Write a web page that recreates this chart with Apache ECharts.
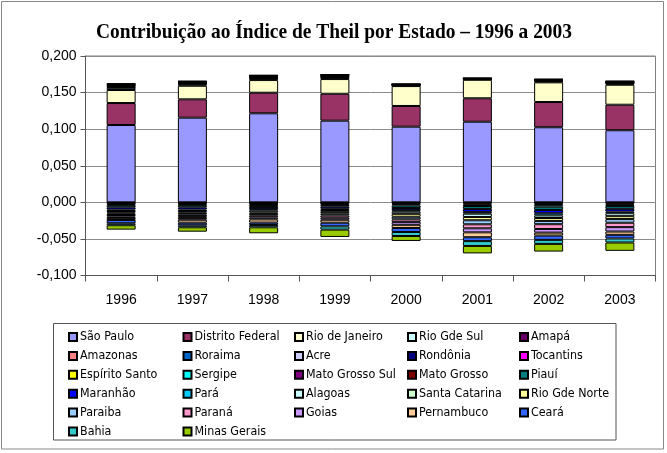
<!DOCTYPE html>
<html><head><meta charset="utf-8">
<script src="https://cdn.jsdelivr.net/npm/echarts@6/dist/echarts.min.js"></script>
<style>html,body{margin:0;padding:0;background:#fff}#c{width:667px;height:453px}</style>
</head><body><div id="c"></div><script>
// ---------- DATA ----------
const years = ['1996','1997','1998','1999','2000','2001','2002','2003'];
const yTicks = { min: -0.1, max: 0.2, interval: 0.05 };

const saoPaulo        = [0.1057, 0.1157, 0.1217, 0.1116, 0.1034, 0.1102, 0.1026, 0.0985];
const distritoFederal = [0.0300, 0.0251, 0.0281, 0.0368, 0.0283, 0.0320, 0.0345, 0.0349];
const rioDeJaneiro    = [0.0178, 0.0185, 0.0173, 0.0201, 0.0272, 0.0253, 0.0269, 0.0273];
const rioGdeSul       = [0.0030, 0.0020, 0.0020, 0.0020, 0.0008, 0.0006, 0.0012, 0.0015];
const amapa           = [0.0008, 0.0006, 0.0006, 0.0006, 0.0003, 0.0003, 0.0005, 0.0005];
const amazonas        = [0.0015, 0.0010, 0.0012, 0.0010, 0.0005, 0.0004, 0.0008, 0.0008];
const roraima         = [0.0005, 0.0004, 0.0004, 0.0004, 0.0002, 0.0002, 0.0003, 0.0003];
const acre            = [-0.0003, -0.0003, -0.0003, -0.0003, -0.0003, -0.0003, -0.0003, -0.0003];
const rondonia        = [-0.0012, -0.0012, -0.0010, -0.0010, -0.0012, -0.0015, -0.0018, -0.0016];
const tocantins       = [-0.0008, -0.0008, -0.0008, -0.0007, -0.0010, -0.0012, -0.0013, -0.0012];
const espiritoSanto   = [0.0010, 0.0008, 0.0008, 0.0008, 0.0003, 0.0002, 0.0005, 0.0006];
const sergipe         = [-0.0015, -0.0015, -0.0015, -0.0015, -0.0017, -0.0020, -0.0025, -0.0020];
const matoGrossoSul   = [0.0007, 0.0006, 0.0006, 0.0006, 0.0003, 0.0002, 0.0004, 0.0005];
const matoGrosso      = [0.0007, 0.0006, 0.0006, 0.0006, 0.0002, 0.0002, 0.0004, 0.0005];
const piaui           = [-0.0030, -0.0030, -0.0027, -0.0025, -0.0035, -0.0040, -0.0045, -0.0038];
const maranhao        = [-0.0030, -0.0030, -0.0030, -0.0028, -0.0030, -0.0040, -0.0045, -0.0038];
const para            = [-0.0020, -0.0020, -0.0020, -0.0017, -0.0020, -0.0025, -0.0030, -0.0022];
const alagoas         = [-0.0020, -0.0025, -0.0025, -0.0025, -0.0030, -0.0045, -0.0035, -0.0040];
const santaCatarina   = [0.0008, 0.0005, 0.0006, 0.0004, 0.0002, 0.0003, 0.0004, 0.0004];
const rioGdeNorte     = [-0.0015, -0.0020, -0.0020, -0.0025, -0.0040, -0.0045, -0.0040, -0.0040];
const paraiba         = [-0.0020, -0.0025, -0.0025, -0.0025, -0.0035, -0.0055, -0.0045, -0.0050];
const parana          = [-0.0020, -0.0025, -0.0025, -0.0030, -0.0035, -0.0055, -0.0065, -0.0060];
const goias           = [-0.0020, -0.0025, -0.0025, -0.0028, -0.0040, -0.0055, -0.0050, -0.0060];
const pernambuco      = [-0.0028, -0.0040, -0.0044, -0.0040, -0.0043, -0.0067, -0.0040, -0.0045];
const ceara           = [-0.0045, -0.0036, -0.0032, -0.0050, -0.0055, -0.0053, -0.0059, -0.0050];
const bahia           = [-0.0027, -0.0027, -0.0032, -0.0045, -0.0055, -0.0066, -0.0055, -0.0055];
const minasGerais     = [-0.0060, -0.0060, -0.0082, -0.0100, -0.0068, -0.0102, -0.0105, -0.0114];

const stateNames = ['São Paulo','Distrito Federal','Rio de Janeiro','Rio Gde Sul','Amapá',
  'Amazonas','Roraima','Acre','Rondônia','Tocantins',
  'Espírito Santo','Sergipe','Mato Grosso Sul','Mato Grosso','Piauí',
  'Maranhão','Pará','Alagoas','Santa Catarina','Rio Gde Norte',
  'Paraiba','Paraná','Goias','Pernambuco','Ceará',
  'Bahia','Minas Gerais'];
const stateValues = [saoPaulo, distritoFederal, rioDeJaneiro, rioGdeSul, amapa,
  amazonas, roraima, acre, rondonia, tocantins,
  espiritoSanto, sergipe, matoGrossoSul, matoGrosso, piaui,
  maranhao, para, alagoas, santaCatarina, rioGdeNorte,
  paraiba, parana, goias, pernambuco, ceara,
  bahia, minasGerais];
const stateColors = ['#9999FF','#993366','#FFFFCC','#CCFFFF','#660066',
  '#FF8080','#0066CC','#CCCCFF','#000080','#FF00FF',
  '#FFFF00','#00FFFF','#800080','#800000','#008080',
  '#0000FF','#00CCFF','#CCFFFF','#CCFFCC','#FFFF99',
  '#99CCFF','#FF99CC','#CC99FF','#FFCC99','#3366FF',
  '#33CCCC','#99CC00'];
const titleText = 'Contribuição ao Índice de Theil por Estado – 1996 a 2003';

// ---------- FONT HELPERS ----------
const ctx = document.createElement('canvas').getContext('2d');
function hasFont(f){
  const s='Mato Grosso Sul 0123 WWmm';
  ctx.font='40px monospace'; const a=ctx.measureText(s).width;
  ctx.font='40px "'+f+'", monospace'; const b=ctx.measureText(s).width;
  return a!==b;
}
function widthAt(font, txt){ ctx.font=font; return ctx.measureText(txt).width; }
const narrowCandidates = ['Liberation Sans Narrow','Arial Narrow','DejaVu Sans Condensed','Roboto Condensed','Open Sans Condensed'];
let legendFamily = 'Liberation Sans';
for (const f of narrowCandidates){ if (hasFont(f)) { legendFamily = f; break; } }
const legendSize = Math.min(14, 100*90/widthAt('100px "'+legendFamily+'"','Mato Grosso Sul'));
const titleFont = 'bold 22px "Liberation Serif"';
const titleScale = Math.min(1, 476/widthAt(titleFont, titleText));

// ---------- CHART ----------
const chart = echarts.init(document.getElementById('c'), null, {renderer:'canvas'});

const series = stateNames.map((n,i)=>({
  name:n, type:'bar', stack:'total', barWidth:29,
  data: stateValues[i],
  itemStyle:{color:stateColors[i], borderColor:'#000', borderWidth:1},
  emphasis:{disabled:true}, animation:false
}));

const colLefts = [63, 177.5, 289, 402, 514];
const legends = colLefts.map((x,c)=>({
  orient:'vertical', left:x, top:325,
  data: stateNames.filter((_,i)=>i%5===c),
  icon:'rect', itemWidth:8, itemHeight:8, itemGap:4.9,
  selectedMode:false,
  textStyle:{fontFamily:legendFamily, fontSize:legendSize, lineHeight:14, color:'#000', padding:[0,0,0,-2]}
}));

chart.setOption({
  animation:false,
  backgroundColor:'#fff',
  grid:{left:85.5, top:56, width:570, height:219.5, show:true, borderColor:'#808080', borderWidth:1, containLabel:false},
  legend: legends,
  xAxis:{type:'category', data:years, boundaryGap:true,
    axisLine:{onZero:false, lineStyle:{color:'#555', width:1}},
    axisTick:{show:true, length:6, lineStyle:{color:'#555'}},
    axisLabel:{margin:18, fontFamily:'Liberation Sans', fontSize:14, color:'#000'},
    splitLine:{show:false}},
  yAxis:{type:'value', min:yTicks.min, max:yTicks.max, interval:yTicks.interval,
    axisLine:{show:true, lineStyle:{color:'#555', width:1}},
    axisTick:{show:true, length:5, lineStyle:{color:'#555'}},
    axisLabel:{margin:9, fontFamily:'Liberation Sans', fontSize:14, color:'#000',
      formatter:v=>v.toFixed(3).replace('.',',')},
    splitLine:{show:true, lineStyle:{color:'#8c8c8c', width:1}}},
  graphic:[
    {type:'rect', silent:true, z:-10, shape:{x:1.5,y:1.5,width:662,height:447.5},
      style:{fill:null, stroke:'#888', lineWidth:1}},
    {type:'rect', silent:true, z:-5, shape:{x:53.5,y:323.5,width:562.5,height:116.5},
      style:{fill:'#fff', stroke:'#555', lineWidth:1}},
    {type:'text', silent:true, x:334, y:32, scaleX:titleScale,
      style:{text:titleText, font:titleFont, fill:'#000', align:'center', verticalAlign:'middle'}}
  ],
  series: series
});
</script></body></html>
